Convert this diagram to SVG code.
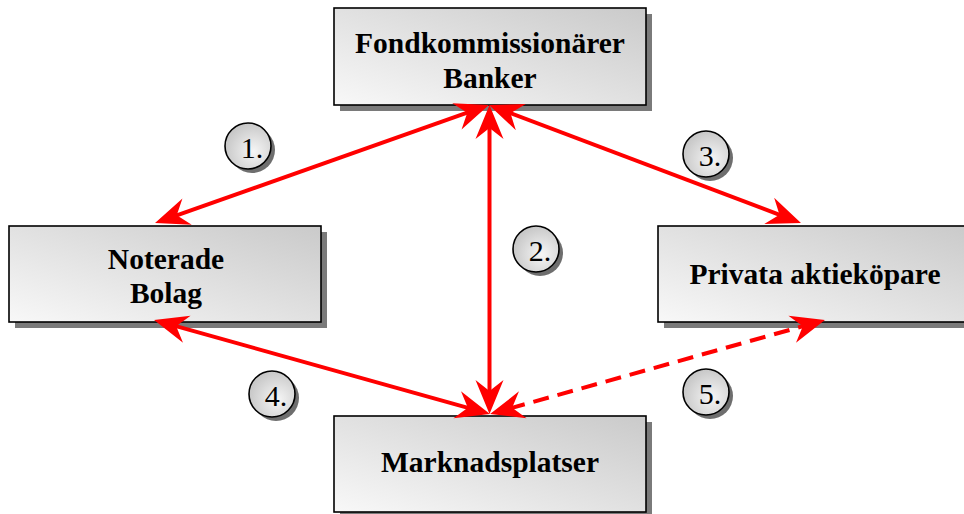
<svg xmlns="http://www.w3.org/2000/svg" width="964" height="514" viewBox="0 0 964 514">
  <style>
    .shadow { fill: #7a7a7a; }
    .box { fill: url(#boxFill); stroke: #000; stroke-width: 1.6; }
    .label { font-family: "Liberation Serif", "Times New Roman", serif; font-weight: bold; font-size: 29.5px; fill: #000; text-anchor: middle; }
    .badge { fill: url(#badgeFill); stroke: #000; stroke-width: 1.6; }
    .badge-shadow { fill: #6e6e6e; }
    .num { font-family: "Liberation Serif", "Times New Roman", serif; font-size: 30px; fill: #000; text-anchor: middle; }
    .link { stroke: #ff0000; stroke-width: 4; fill: none; marker-start: url(#head); marker-end: url(#head); }
    .dashed { stroke-dasharray: 16 9; }
  </style>
  <defs>
    <linearGradient id="boxFill" x1="0" y1="1" x2="1" y2="0">
      <stop offset="0" stop-color="#f8f8f8"/>
      <stop offset="1" stop-color="#cacaca"/>
    </linearGradient>
    <radialGradient id="badgeFill" cx="0.62" cy="0.62" r="0.62">
      <stop offset="0" stop-color="#f6f6f6"/>
      <stop offset="1" stop-color="#c8c8c8"/>
    </radialGradient>
    <marker id="head" markerUnits="userSpaceOnUse" viewBox="-20 -16 44 32" markerWidth="44" markerHeight="32" refX="0" refY="0" orient="auto-start-reverse">
      <path d="M20,0 L-14,-14 L-3,0 L-14,14 Z" fill="#ff0000"/>
    </marker>
  </defs>

  <g id="fondkommissionarer">
    <rect class="shadow" x="340" y="14" width="312" height="97"/>
    <rect class="box" x="334" y="8" width="312" height="97"/>
    <text class="label" x="490" y="53">Fondkommissionärer</text>
    <text class="label" x="490" y="88">Banker</text>
  </g>

  <g id="noterade-bolag">
    <rect class="shadow" x="15" y="232" width="312" height="96"/>
    <rect class="box" x="9" y="226" width="312" height="96"/>
    <text class="label" x="166" y="269">Noterade</text>
    <text class="label" x="166" y="303">Bolag</text>
  </g>

  <g id="privata-aktiekopare">
    <rect class="shadow" x="664" y="232" width="312" height="96"/>
    <rect class="box" x="658" y="226" width="312" height="96"/>
    <text class="label" x="815" y="284">Privata aktieköpare</text>
  </g>

  <g id="marknadsplatser">
    <rect class="shadow" x="340" y="422" width="312" height="96"/>
    <rect class="box" x="334" y="416" width="312" height="96"/>
    <text class="label" x="490" y="472">Marknadsplatser</text>
  </g>

  <g id="connectors">
    <line class="link" x1="470.1" y1="111.7" x2="173.9" y2="216.3"/>
    <line class="link" x1="489.5" y1="125" x2="489.5" y2="394"/>
    <line class="link" x1="507.7" y1="112.1" x2="782.3" y2="215.9"/>
    <line class="link" x1="173.3" y1="325.4" x2="470.7" y2="408.6"/>
    <line class="link dashed" x1="509.3" y1="408.6" x2="805.7" y2="325.4"/>
  </g>

  <g id="step-1">
    <circle class="badge-shadow" cx="252" cy="150" r="23"/>
    <circle class="badge" cx="248" cy="146" r="23"/>
    <text class="num" x="252" y="158">1.</text>
  </g>
  <g id="step-2">
    <circle class="badge-shadow" cx="540" cy="253" r="23"/>
    <circle class="badge" cx="536" cy="249" r="23"/>
    <text class="num" x="540" y="261">2.</text>
  </g>
  <g id="step-3">
    <circle class="badge-shadow" cx="710" cy="158" r="23"/>
    <circle class="badge" cx="706" cy="154" r="23"/>
    <text class="num" x="710" y="166">3.</text>
  </g>
  <g id="step-4">
    <circle class="badge-shadow" cx="276" cy="398" r="23"/>
    <circle class="badge" cx="272" cy="394" r="23"/>
    <text class="num" x="276" y="406">4.</text>
  </g>
  <g id="step-5">
    <circle class="badge-shadow" cx="710" cy="396" r="23"/>
    <circle class="badge" cx="706" cy="392" r="23"/>
    <text class="num" x="710" y="404">5.</text>
  </g>
</svg>
